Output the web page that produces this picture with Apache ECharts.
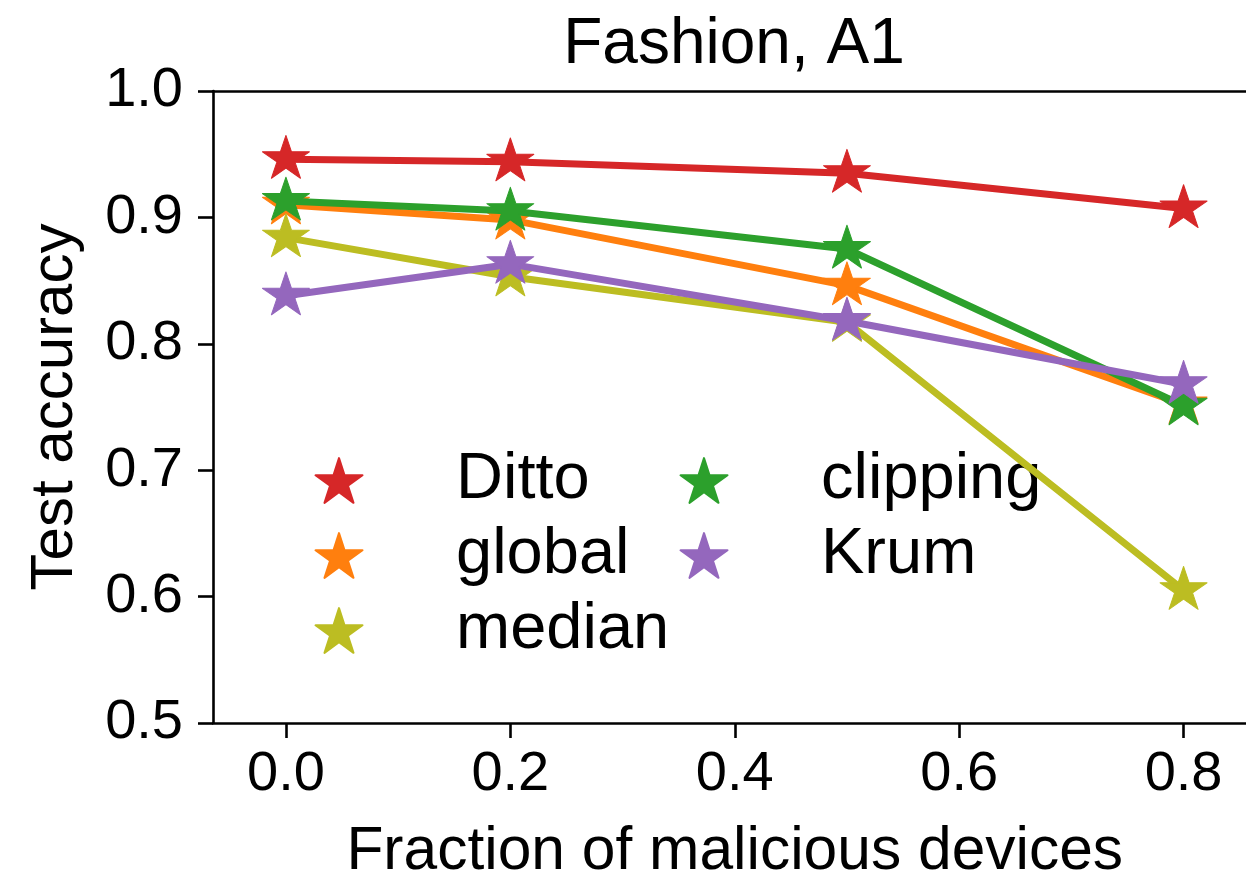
<!DOCTYPE html>
<html><head><meta charset="utf-8">
<script src="https://cdn.jsdelivr.net/npm/echarts@6/dist/echarts.min.js"></script>
<style>html,body{margin:0;padding:0;background:#fff}#c{width:1246px;height:879px}</style>
</head><body><div id="c"></div>
<script>
// ---- data ----
const xValues = [0.0, 0.2, 0.5, 0.8];
const seriesNames = ['Ditto', 'global', 'median', 'clipping', 'Krum'];
const dittoValues = [0.946, 0.944, 0.935, 0.907];
const globalValues = [0.910, 0.898, 0.846, 0.752];
const medianValues = [0.884, 0.853, 0.817, 0.605];
const clippingValues = [0.913, 0.905, 0.875, 0.751];
const krumValues = [0.838, 0.863, 0.818, 0.768];
const xTickValues = [0.0, 0.2, 0.4, 0.6, 0.8];
const titleText = 'Fashion, A1';
const xAxisName = 'Fraction of malicious devices';
const yAxisName = 'Test accuracy';

// ---- style ----
const colors = ['#d62728', '#ff7f0e', '#bcbd22', '#2ca02c', '#9467bd'];
const FONT = 'Liberation Sans';
const STAR = 'path://M100 0 L122.45 69.1 L195.11 69.1 L136.33 111.8 L158.78 180.9 L100 138.2 L41.22 180.9 L63.67 111.8 L4.89 69.1 L77.55 69.1 Z';
const allValues = [dittoValues, globalValues, medianValues, clippingValues, krumValues];
const SPINE = { color: '#000', width: 2.6 };

const series = seriesNames.map((name, i) => ({
  name: name,
  type: 'line',
  data: xValues.map((x, j) => [x, allValues[i][j]]),
  symbol: STAR,
  symbolKeepAspect: true,
  symbolSize: [47, 45],
  symbolOffset: [0, -2.4],
  showSymbol: true,
  lineStyle: { color: colors[i], width: 7 },
  itemStyle: { color: colors[i], borderColor: colors[i], borderWidth: 1, borderJoin: 'round' },
  z: 2 + i,
  animation: false,
  emphasis: { disabled: true }
}));

const legendCommon = {
  orient: 'vertical',
  itemWidth: 47,
  itemHeight: 45,
  itemGap: 10,
  symbolKeepAspect: true,
  textStyle: { fontSize: 65, fontFamily: FONT, color: '#000', padding: [0, 0, 0, 88.5] },
  selectedMode: false
};

const chart = echarts.init(document.getElementById('c'), null, { renderer: 'canvas' });
chart.setOption({
  backgroundColor: '#fff',
  animation: false,
  title: {
    text: titleText,
    left: 729, top: 8,
    textAlign: 'center',
    textStyle: { fontSize: 64, fontWeight: 'normal', fontFamily: FONT, color: '#000' }
  },
  legend: [
    Object.assign({}, legendCommon, {
      left: 309.5, top: 443,
      data: seriesNames.slice(0, 3).map(n => ({ name: n, icon: STAR }))
    }),
    Object.assign({}, legendCommon, {
      left: 674.5, top: 443,
      data: seriesNames.slice(3).map(n => ({ name: n, icon: STAR }))
    })
  ],
  grid: {
    left: 213, top: 91, width: 1043.5, height: 632,
    show: false,
    containLabel: false,
    outerBoundsMode: 'none'
  },
  xAxis: [{
    type: 'value',
    position: 'bottom',
    min: -0.065, max: 0.865,
    name: xAxisName,
    nameLocation: 'middle',
    nameGap: 99,
    nameTextStyle: { fontSize: 60.5, fontFamily: FONT, color: '#000' },
    axisLine: { show: true, onZero: false, lineStyle: SPINE },
    splitLine: { show: false },
    axisTick: { show: true, length: 15, customValues: xTickValues, lineStyle: SPINE },
    axisLabel: {
      customValues: xTickValues,
      margin: 24,
      fontSize: 56, fontFamily: FONT, color: '#000',
      formatter: v => Number(v).toFixed(1)
    }
  }, {
    type: 'value',
    position: 'top',
    min: -0.065, max: 0.865,
    axisLine: { show: true, onZero: false, lineStyle: SPINE },
    splitLine: { show: false },
    axisTick: { show: false },
    axisLabel: { show: false }
  }],
  yAxis: {
    type: 'value',
    min: 0.5, max: 1.0, interval: 0.1,
    name: yAxisName,
    nameLocation: 'middle',
    nameGap: 128,
    nameTextStyle: { fontSize: 60, fontFamily: FONT, color: '#000' },
    axisLine: { show: true, onZero: false, lineStyle: SPINE },
    splitLine: { show: false },
    axisTick: { show: true, length: 15, lineStyle: SPINE },
    axisLabel: {
      margin: 30,
      fontSize: 56, fontFamily: FONT, color: '#000',
      formatter: v => Number(v).toFixed(1)
    }
  },
  series: series
});
</script>
</body></html>
